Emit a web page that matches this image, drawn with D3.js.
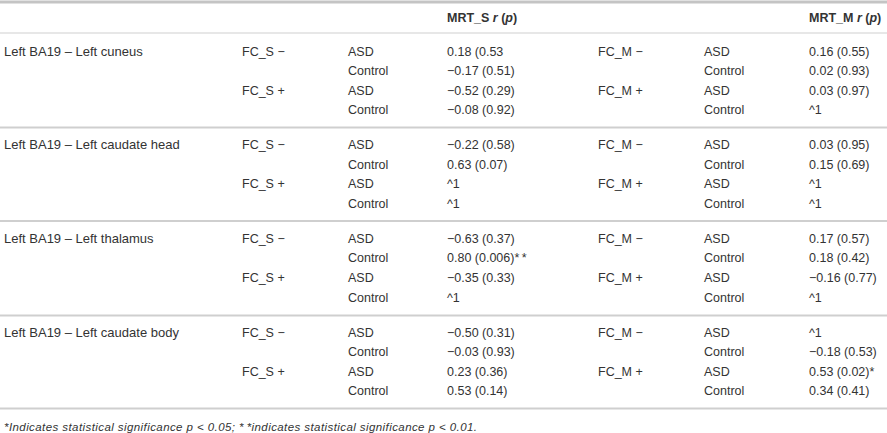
<!DOCTYPE html>
<html>
<head>
<meta charset="utf-8">
<script src="https://cdn.jsdelivr.net/npm/d3@7"></script>
<style>
  body { margin: 0; background: #fff; }
  svg text { font-family: "Liberation Sans", Arial, sans-serif; fill: #333; }
</style>
</head>
<body>
<div id="tabla"></div>
<script>
// data
var regions = ["Left BA19 \u2013 Left cuneus", "Left BA19 \u2013 Left caudate head",
               "Left BA19 \u2013 Left thalamus", "Left BA19 \u2013 Left caudate body"];
var fcS = ["FC_S \u2212", "", "FC_S +", ""];
var fcM = ["FC_M \u2212", "", "FC_M +", ""];
var groups = ["ASD", "Control", "ASD", "Control"];
var mrtS = [
  ["0.18 (0.53", "\u22120.17 (0.51)", "\u22120.52 (0.29)", "\u22120.08 (0.92)"],
  ["\u22120.22 (0.58)", "0.63 (0.07)", "^1", "^1"],
  ["\u22120.63 (0.37)", "0.80 (0.006)*\u2009*", "\u22120.35 (0.33)", "^1"],
  ["\u22120.50 (0.31)", "\u22120.03 (0.93)", "0.23 (0.36)", "0.53 (0.14)"]
];
var mrtM = [
  ["0.16 (0.55)", "0.02 (0.93)", "0.03 (0.97)", "^1"],
  ["0.03 (0.95)", "0.15 (0.69)", "^1", "^1"],
  ["0.17 (0.57)", "0.18 (0.42)", "\u22120.16 (0.77)", "^1"],
  ["^1", "\u22120.18 (0.53)", "0.53 (0.02)*", "0.34 (0.41)"]
];
var footnote = "*Indicates statistical significance p < 0.05; *\u2009*indicates statistical significance p < 0.01.";

var width = 887, height = 433;
var cols = ["region", "fcS", "grpS", "mrtS", "fcM", "grpM", "mrtM"];

var x = d3.scaleOrdinal().domain(cols).range([4, 242, 348, 447, 598, 704, 809]);
var ySection = d3.scaleLinear().domain([0, 3]).range([51, 332]);
var yRow = d3.scaleLinear().domain([0, 3]).range([0, 58.8]);

var svg = d3.select("#tabla").append("svg")
  .attr("width", width).attr("height", height);

// lines
var lines = [2, 33, 127.5, 221, 315.5, 408.5];
svg.selectAll("line.rule").data(lines).enter().append("line")
  .attr("class", "rule")
  .attr("x1", 0).attr("x2", width)
  .attr("y1", d => d).attr("y2", d => d)
  .attr("stroke", (d, i) => i == 0 ? "#c4c4c4" : "#cfcfcf")
  .attr("stroke-width", (d, i) => i == 0 ? 3 : (i == 1 ? 1.2 : 1.8));

// header
var head = svg.selectAll("text.head").data(["MRT_S", "MRT_M"]).enter().append("text")
  .attr("class", "head")
  .attr("x", (d, i) => x(i == 0 ? "mrtS" : "mrtM"))
  .attr("y", 21.5)
  .style("font-size", "12.5px")
  .style("font-weight", "bold");
head.append("tspan").text(d => d + " ");
head.append("tspan").style("font-style", "italic").text("r");
head.append("tspan").text(" (");
head.append("tspan").style("font-style", "italic").text("p");
head.append("tspan").text(")");

// body cells
var cells = [];
regions.forEach(function (reg, s) {
  cells.push({ s: s, r: 0, col: "region", t: reg });
  for (var r = 0; r < 4; r++) {
    cells.push({ s: s, r: r, col: "fcS", t: fcS[r] });
    cells.push({ s: s, r: r, col: "grpS", t: groups[r] });
    cells.push({ s: s, r: r, col: "mrtS", t: mrtS[s][r] });
    cells.push({ s: s, r: r, col: "fcM", t: fcM[r] });
    cells.push({ s: s, r: r, col: "grpM", t: groups[r] });
    cells.push({ s: s, r: r, col: "mrtM", t: mrtM[s][r] });
  }
});

svg.selectAll("text.cell").data(cells.filter(d => d.t != "")).enter().append("text")
  .attr("class", "cell")
  .attr("x", d => x(d.col))
  .attr("y", d => ySection(d.s) + yRow(d.r) + 4.5)
  .style("font-size", d => d.col == "region" ? "13px" : "12.5px")
  .text(d => d.t);

// footnote
svg.append("text")
  .attr("x", 4).attr("y", 431)
  .attr("textLength", 473)
  .attr("lengthAdjust", "spacing")
  .style("font-size", "11.5px")
  .style("font-style", "italic")
  .text(footnote);
</script>
</body>
</html>
